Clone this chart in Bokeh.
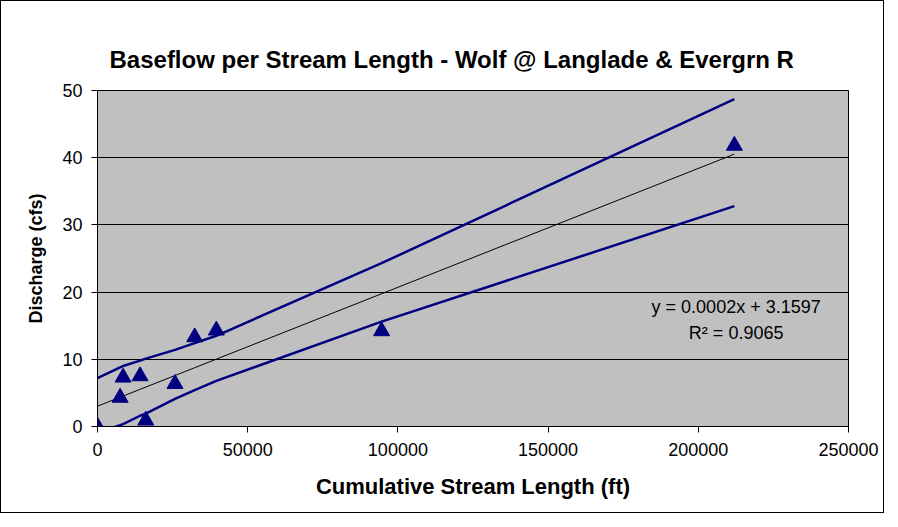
import numpy as np
from bokeh.plotting import figure
from bokeh.models import FixedTicker, BasicTickFormatter, Label, Range1d, Title
from bokeh.embed import file_html
from bokeh.resources import INLINE

# ---- data ----
stream_length = [0, 7530, 8520, 14170, 16070, 25800, 32350, 39560, 94570, 212000]
discharge = [0.0, 4.3, 7.3, 7.5, 0.9, 6.35, 13.3, 14.3, 14.2, 41.8]
upper_band = [7.2, 8.8, 9.0, 9.8, 10.1, 11.4, 12.4, 13.5, 24.3, 48.7]
lower_band = [-0.9, 0.2, 0.35, 1.6, 1.9, 4.1, 5.4, 6.8, 15.6, 32.8]
x_ticks = [0, 50000, 100000, 150000, 200000, 250000]
y_ticks = [0, 10, 20, 30, 40, 50]
title_text = "Baseflow per Stream Length - Wolf @ Langlade & Evergrn R"
x_label = "Cumulative Stream Length (ft)"
y_label = "Discharge (cfs)"
eq_text = "y = 0.0002x + 3.1597"
r2_text = "R\u00b2 = 0.9065"

# trendline from a least-squares fit of the points
slope, intercept = np.polyfit(stream_length, discharge, 1)
trend = [slope * x + intercept for x in stream_length]

FONT = "Liberation Sans"

p = figure(
    frame_width=751, frame_height=336,
    min_border_left=96, min_border_right=35,
    min_border_top=89, min_border_bottom=86,
    output_backend="svg", toolbar_location=None,
    x_range=Range1d(0, 250000), y_range=Range1d(0, 50),
)
p.styles = {"border": "1px solid black", "box-sizing": "border-box"}

p.background_fill_color = "#C0C0C0"
p.border_fill_color = "white"
p.outline_line_color = "black"
p.outline_line_width = 1

# the built-in title slot (nearest the plot area) is an invisible spacer
p.title.text = "."
p.title.text_alpha = 0
p.title.text_font_size = "10px"
p.title.standoff = 10

# real chart title, stacked above the spacer
main_title = Title(text=title_text, align="left", vertical_align="bottom",
                   text_font=FONT, text_font_size="24px",
                   text_font_style="bold", text_color="black",
                   offset=12, standoff=36)
p.add_layout(main_title, "above")

# axes
for ax in (p.xaxis[0], p.yaxis[0]):
    ax.axis_line_color = "black"
    ax.major_tick_line_color = "black"
    ax.major_tick_out = 6
    ax.major_tick_in = 0
    ax.minor_tick_line_color = None
    ax.major_label_text_font = FONT
    ax.major_label_text_font_size = "18px"
    ax.major_label_text_color = "black"
    ax.axis_label_text_font = FONT
    ax.axis_label_text_font_style = "bold"
    ax.axis_label_text_color = "black"

p.xaxis.ticker = FixedTicker(ticks=x_ticks)
p.xaxis.formatter = BasicTickFormatter(use_scientific=False)
p.yaxis.ticker = FixedTicker(ticks=y_ticks)
p.xaxis.axis_label = x_label
p.yaxis.axis_label = y_label
p.xaxis.axis_label_text_font_size = "22px"
p.yaxis.axis_label_text_font_size = "18px"
p.xaxis.major_label_standoff = 10
p.yaxis.major_label_standoff = 9
p.xaxis.axis_label_standoff = 15
p.yaxis.axis_label_standoff = 13

# grid
p.xgrid.grid_line_color = None
p.ygrid.grid_line_color = "black"
p.ygrid.grid_line_width = 1

# lines
p.line(stream_length, upper_band, line_color="#000080", line_width=2.5)
p.line(stream_length, lower_band, line_color="#000080", line_width=2.5)
p.line(stream_length, trend, line_color="black", line_width=1)

# points
p.scatter(stream_length, discharge, marker="triangle", size=16,
          fill_color="#000080", line_color="#000080")

# equation labels
p.add_layout(Label(x=212600, y=17.75, text=eq_text, text_align="center",
                   text_baseline="middle", text_font=FONT,
                   text_font_size="18px", text_color="black"))
p.add_layout(Label(x=212600, y=13.9, text=r2_text, text_align="center",
                   text_baseline="middle", text_font=FONT,
                   text_font_size="18px", text_color="black"))

open("out.html", "w").write(file_html(p, INLINE))
